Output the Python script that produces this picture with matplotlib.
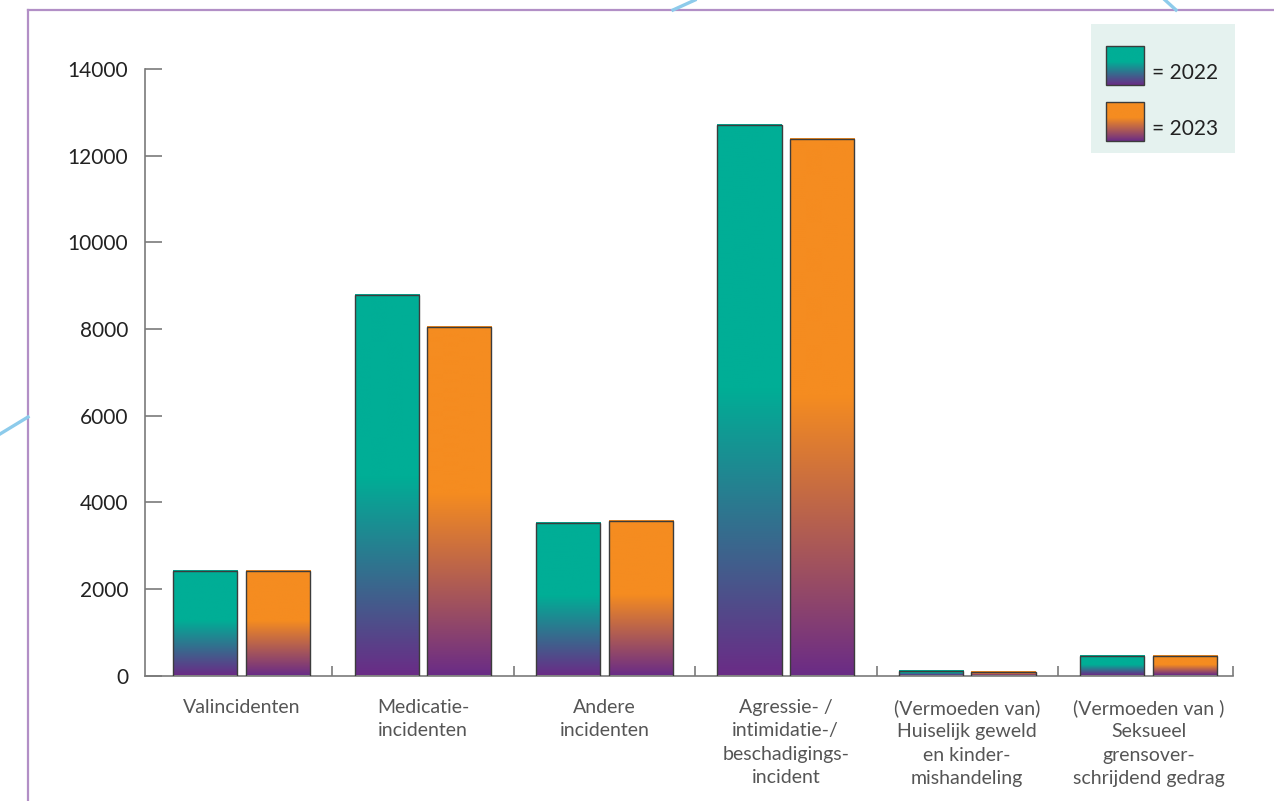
import numpy as np
import matplotlib
matplotlib.use("Agg")
import matplotlib.pyplot as plt
from matplotlib.colors import to_rgb
from matplotlib.lines import Line2D

# ── Data ──────────────────────────────────────────────────
categories = [
    "Valincidenten",
    "Medicatie-\nincidenten",
    "Andere\nincidenten",
    "Agressie- /\nintimidatie-/\nbeschadigings-\nincident",
    "(Vermoeden van)\nHuiselijk geweld\nen kinder-\nmishandeling",
    "(Vermoeden van )\nSeksueel\ngrensover-\nschrijdend gedrag",
]
vals_2022 = [2410, 8780, 3515, 12705, 105, 445]
vals_2023 = [2410, 8055, 3570, 12385, 90, 460]
years = ["2022", "2023"]
yticks = [0, 2000, 4000, 6000, 8000, 10000, 12000, 14000]

# ── Style ─────────────────────────────────────────────────
TEAL   = "#00AE96"
ORANGE = "#F58C20"
PURPLE = "#6A2C86"
EDGE   = "#3C3C3C"
AXIS   = "#7A7A7A"
LAV    = "#B28FC6"
DECO   = "#8DCBEB"
W, H   = 1274, 801

plt.rcParams["font.family"] = ["Lato", "DejaVu Sans"]


def gradient(top, n=256, split=0.52):
    # row 0 = bottom of the bar (purple), solid top colour above `split`
    t = np.linspace(0, 1, n)[:, None]
    f = np.clip(t / split, 0, 1)
    c = (1 - f) * np.array(to_rgb(PURPLE)) + f * np.array(to_rgb(top))
    return c[:, None, :]


fig = plt.figure(figsize=(W / 100, H / 100), dpi=100)
fig.patch.set_facecolor("white")

# decorative frame + background arcs
fig.add_artist(Line2D([28 / W, 1], [1 - 10 / H, 1 - 10 / H],
                      transform=fig.transFigure, color=LAV, lw=1.6))
fig.add_artist(Line2D([28 / W, 28 / W], [0, 1 - 10 / H],
                      transform=fig.transFigure, color=LAV, lw=1.6))
for xs, ys in [([673, 695], [10, 0]), ([1165, 1176], [0, 10]),
               ([0, 28], [434, 417])]:
    fig.add_artist(Line2D([x / W for x in xs], [1 - y / H for y in ys],
                          transform=fig.transFigure, color=DECO, lw=2.4))

# ── Main axes ─────────────────────────────────────────────
ax = fig.add_axes([145 / W, 1 - 675.5 / H, (1233 - 145) / W, (675.5 - 69) / H])
x = np.arange(len(categories))
bw, off = 0.353, 0.2

for xi, v22, v23 in zip(x, vals_2022, vals_2023):
    for xc, v, col in [(xi - off, v22, TEAL), (xi + off, v23, ORANGE)]:
        ax.imshow(gradient(col), extent=(xc - bw / 2, xc + bw / 2, 0, v),
                  origin="lower", aspect="auto", interpolation="bilinear",
                  zorder=2)
ax.bar(x - off, vals_2022, bw, fill=False, edgecolor=EDGE, lw=1.0, zorder=3)
ax.bar(x + off, vals_2023, bw, fill=False, edgecolor=EDGE, lw=1.0, zorder=3)

ax.set_xlim(-0.532, 5.465)
ax.set_ylim(0, 14000)
for s in ["top", "right"]:
    ax.spines[s].set_visible(False)
for s in ["left", "bottom"]:
    ax.spines[s].set_color(AXIS)
    ax.spines[s].set_linewidth(1.2)

ax.set_yticks(yticks)
ax.set_yticklabels([str(t) for t in yticks], fontsize=15, color="#222222")
ax.tick_params(axis="y", direction="in", length=12, width=1.2,
               color=AXIS, pad=12)

ax.set_xticks(x)
ax.set_xticklabels(categories, fontsize=14, color="#555555",
                   linespacing=1.45, va="top")
ax.tick_params(axis="x", length=0, pad=17)
ax.set_xticks(list(np.arange(0.5, 5, 1.0)) + [5.465], minor=True)
ax.tick_params(axis="x", which="minor", direction="in", length=7,
               width=1.2, color=AXIS)

# ── Legend (drawn as small panel) ─────────────────────────
lg = fig.add_axes([1091 / W, 1 - 153 / H, 144 / W, 129 / H])
lg.set_facecolor("#E5F2EF")
lg.set_xlim(0, 144)
lg.set_ylim(129, 0)
lg.set_xticks([]); lg.set_yticks([])
for s in lg.spines.values():
    s.set_visible(False)
for (top, bot), col, yr in [((22, 61), TEAL, years[0]),
                            ((78, 117), ORANGE, years[1])]:
    lg.imshow(gradient(col, split=0.6), extent=(15, 53, bot, top),
              origin="lower", aspect="auto", interpolation="bilinear")
    lg.add_patch(plt.Rectangle((15, top), 38, bot - top, fill=False,
                               edgecolor=EDGE, lw=1.0))
    lg.text(61, top + 27, f"= {yr}", fontsize=15, color="#222222",
            va="center", ha="left")
lg.set_xlim(0, 144)
lg.set_ylim(129, 0)

fig.savefig("out.png", dpi=100)
